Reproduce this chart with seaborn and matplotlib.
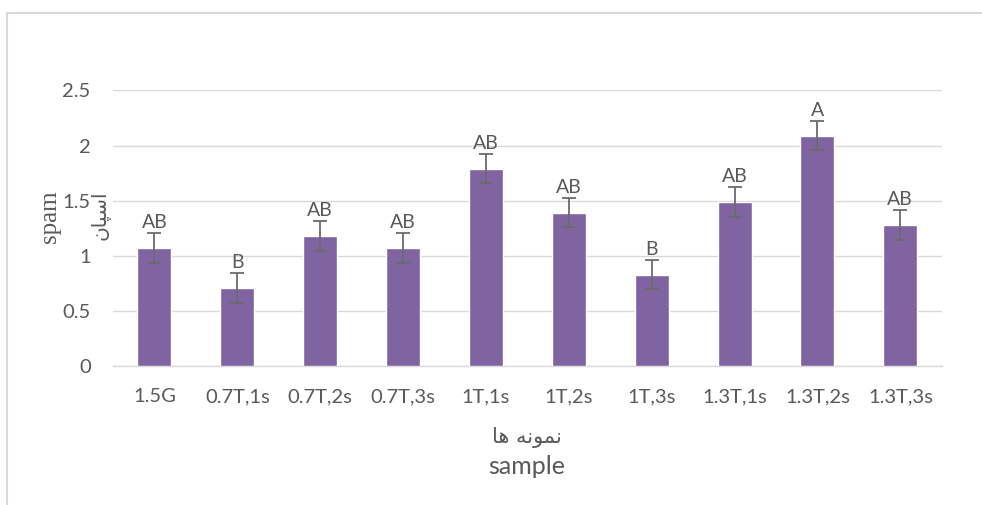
import matplotlib
matplotlib.use("Agg")
import matplotlib.pyplot as plt
from matplotlib.lines import Line2D
import seaborn as sns
import pandas as pd

# Sample groups, mean span values, standard errors and significance letters
samples = ["1.5G", "0.7T,1s", "0.7T,2s", "0.7T,3s", "1T,1s",
           "1T,2s", "1T,3s", "1.3T,1s", "1.3T,2s", "1.3T,3s"]
span_values = [1.07, 0.71, 1.18, 1.07, 1.79, 1.39, 0.83, 1.49, 2.09, 1.28]
span_errors = [0.135, 0.135, 0.133, 0.133, 0.132, 0.133, 0.135, 0.134, 0.133, 0.133]
groups = ["AB", "B", "AB", "AB", "AB", "AB", "B", "AB", "A", "AB"]
y_ticks = [0, 0.5, 1, 1.5, 2, 2.5]
y_tick_labels = ["0", "0.5", "1", "1.5", "2", "2.5"]

BAR = "#8064A2"
TEXT = "#595959"
GRID = "#D9D9D9"

sns.set_theme(style="white")
plt.rcParams["font.family"] = ["Lato", "DejaVu Sans"]

df = pd.DataFrame({"sample": samples, "span": span_values})

fig = plt.figure(figsize=(9.82, 5.05), dpi=100)
ax = fig.add_axes([0.115, 0.275, 0.844, 0.546])

sns.barplot(data=df, x="sample", y="span", order=samples, color=BAR,
            saturation=1, width=0.41, ax=ax, errorbar=None, zorder=3)

xpos = list(range(len(samples)))
ax.errorbar(xpos, span_values, yerr=span_errors, fmt="none", ecolor="#6b6b6b",
            elinewidth=1.3, capsize=5, capthick=1.3, zorder=4)

for x, v, e, g in zip(xpos, span_values, span_errors, groups):
    ax.annotate(g, (x, v + e), xytext=(0, 1.5), textcoords="offset points",
                ha="center", va="bottom", fontsize=14, color=TEXT, zorder=5)

ax.set_ylim(0, 2.5)
ax.set_xlim(-0.5, len(samples) - 0.5)
ax.set_yticks(y_ticks)
ax.set_yticklabels(y_tick_labels)
ax.yaxis.grid(True, color=GRID, linewidth=1.0, zorder=0)
ax.set_axisbelow(True)
for side in ["left", "right", "top"]:
    ax.spines[side].set_visible(False)
ax.spines["bottom"].set_color(GRID)
ax.spines["bottom"].set_linewidth(1.0)
ax.tick_params(axis="both", length=0, labelsize=14.5, labelcolor=TEXT)
ax.tick_params(axis="x", pad=16)
ax.tick_params(axis="y", pad=16)
ax.set_xlabel("")
ax.set_ylabel("")

# Axis titles: Persian (pre-joined glyphs in display order) with English
fig.text(0.537, 1 - 437 / 505, "\uFE8E\uFEEB \uFEEA\uFEE7\uFEEE\uFEE4\uFEE7",
         ha="center", va="center", fontsize=15, color=TEXT,
         family=["DejaVu Sans"])
fig.text(0.536, 1 - 467 / 505, "sample", ha="center", va="center",
         fontsize=18, color=TEXT)
fig.text(50 / 982, 1 - 217 / 505, "spam", rotation=90, ha="center",
         va="center", fontsize=18, color=TEXT, family=["Liberation Serif"])
fig.text(101 / 982, 1 - 215 / 505, "\uFEE5\uFE8E\uFB59\uFEB3\uFE8D",
         rotation=90, ha="center", va="center", fontsize=14.5, color=TEXT,
         family=["DejaVu Sans"])

# Chart frame edges
top_y = 1 - 13 / 505
left_x = 7 / 982
fig.add_artist(Line2D([left_x, 1.0], [top_y, top_y], transform=fig.transFigure,
                      color=GRID, linewidth=1.5))
fig.add_artist(Line2D([left_x, left_x], [0.0, top_y], transform=fig.transFigure,
                      color=GRID, linewidth=1.5))

fig.savefig("out.png", dpi=100, facecolor="white")
